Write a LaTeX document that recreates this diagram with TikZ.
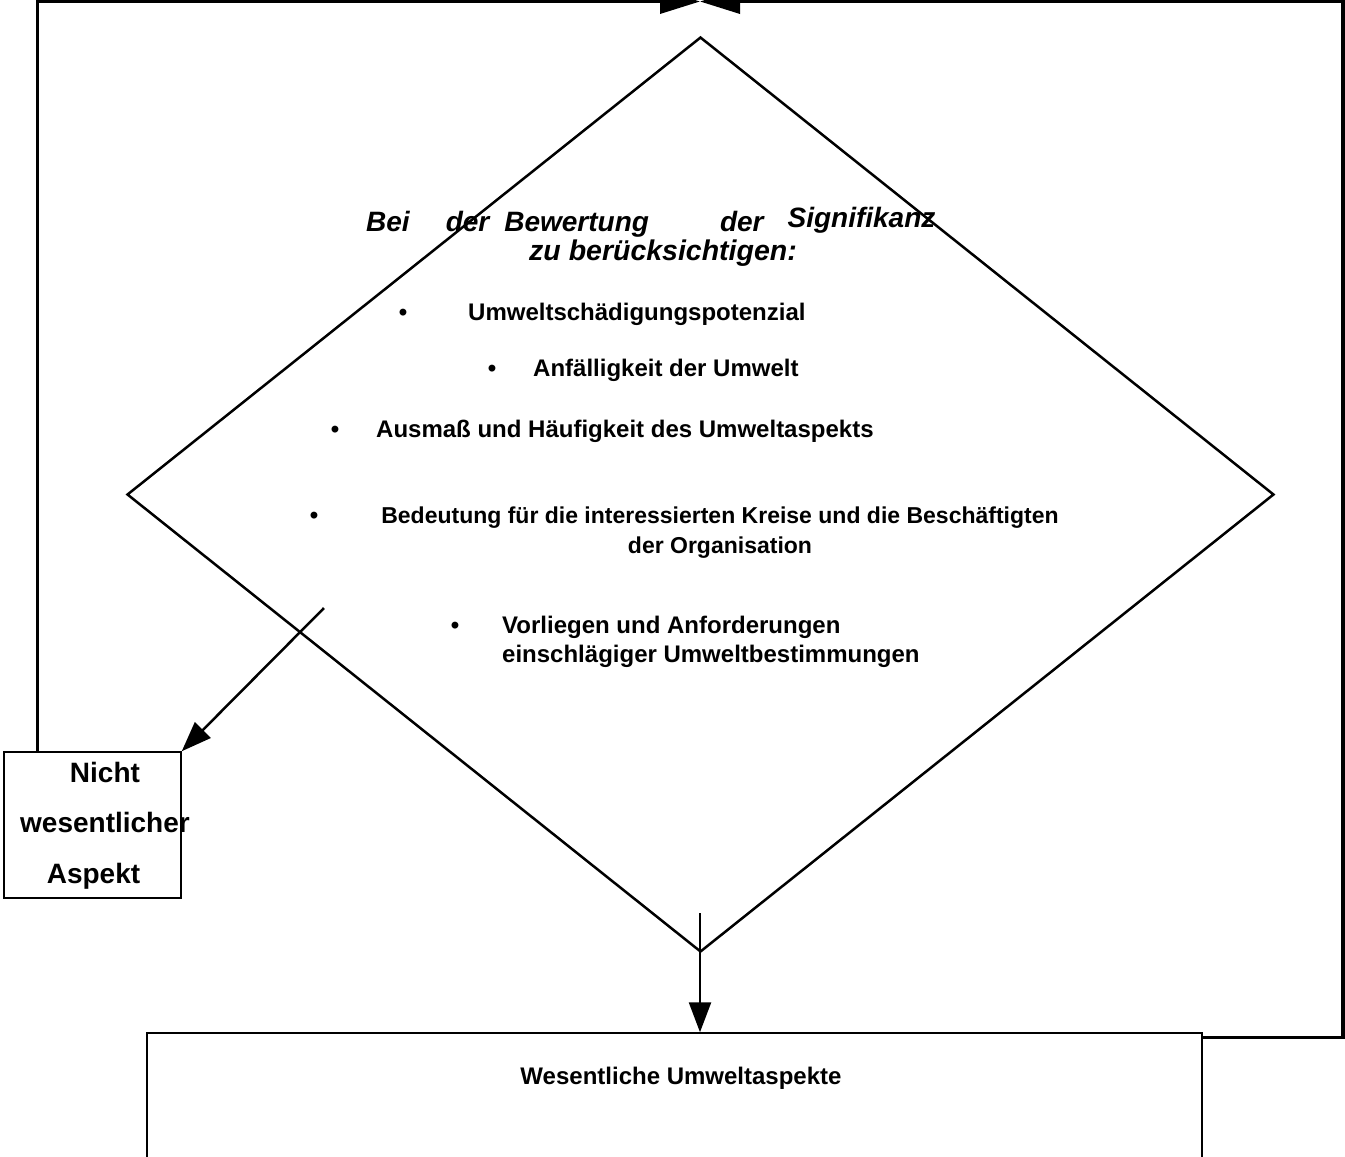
\documentclass[tikz,border=0pt]{standalone}
\usepackage{fontspec}
\setmainfont{Liberation Sans}
\usetikzlibrary{shapes.geometric, arrows.meta, positioning}

\begin{document}
\begin{tikzpicture}[x=1pt, y=-1pt,
    rhombus/.style={diamond, draw, line width=2.5pt, inner sep=0pt, minimum width=1147pt, minimum height=915pt},
    box/.style={rectangle, draw, line width=1.5pt, inner sep=0pt},
    head/.style={font=\fontsize{28}{32}\selectfont\bfseries\itshape, anchor=base west, inner sep=0pt},
    item/.style={font=\fontsize{24}{29}\selectfont\bfseries, anchor=base west, inner sep=0pt},
    dot/.style={font=\fontsize{24}{29}\selectfont\bfseries, anchor=base, inner sep=0pt},
    arrow/.style={line width=2.5pt, -{Triangle[length=30pt, width=22pt]}},
    loop/.style={line width=3.5pt, -{Triangle[length=40pt, width=24pt]}}]

    \useasboundingbox (0,0) rectangle (1345,1157);

    % decision
    \node [rhombus] (check) at (700.5,494.5) {};
    \node [head] (title) at (366,231) {Bei\hspace{36pt}der\hspace{15pt}Bewertung\hspace{71pt}der\hspace{24pt}\raisebox{4pt}{Signifikanz}};
    \node [head, font=\fontsize{28.5}{32}\selectfont\bfseries\itshape] (title2) at (529,260) {zu berücksichtigen:};

    \node [dot] (b1) at (403,320) {\textbullet};
    \node [item] (t1) at (468,320) {Umweltschädigungspotenzial};
    \node [dot] (b2) at (492,376) {\textbullet};
    \node [item] (t2) at (533,376) {Anfälligkeit der Umwelt};
    \node [dot] (b3) at (335,437) {\textbullet};
    \node [item] (t3) at (376,437) {Ausmaß und Häufigkeit des Umweltaspekts};
    \node [dot] (b4) at (314,523) {\textbullet};
    \node [item, anchor=base, align=center, font=\fontsize{23}{30}\selectfont\bfseries] (t4) at (720,553)
        {Bedeutung für die interessierten Kreise und die Beschäftigten\\der Organisation};
    \node [dot] (b5) at (455,633) {\textbullet};
    \node [item, align=left, font=\fontsize{24}{29}\selectfont\bfseries] (t5) at (502,662)
        {Vorliegen und Anforderungen\\einschlägiger Umweltbestimmungen};

    % outcomes
    \node [box, minimum width=177pt, minimum height=146pt] (nicht) at (92.5,825) {};
    \node [item, anchor=base, align=center, font=\fontsize{28}{50.5}\selectfont\bfseries] (nichttext) at (105,883)
        {Nicht\\wesentlicher\\\hspace*{-23pt}Aspekt};
    \node [box, minimum width=1055pt, minimum height=167pt] (wes) at (674.5,1116.5) {};
    \node [item, anchor=base] (westext) at (681,1084) {Wesentliche Umweltaspekte};

    \coordinate (s1) at (324,608);
    \coordinate (s2) at (700,913);
    \coordinate (top) at (700,1.5);
    \coordinate (ne) at (1343,1.5);

    \draw [arrow] (s1) -- (nicht.north east);
    \draw [arrow] (s2) -- (s2 |- wes.north);
    \draw [loop] ([xshift=34pt]nicht.north west) |- (top);
    \draw [loop] ([yshift=-5pt]wes.north east) -| (ne) -- (top);
\end{tikzpicture}
\end{document}
